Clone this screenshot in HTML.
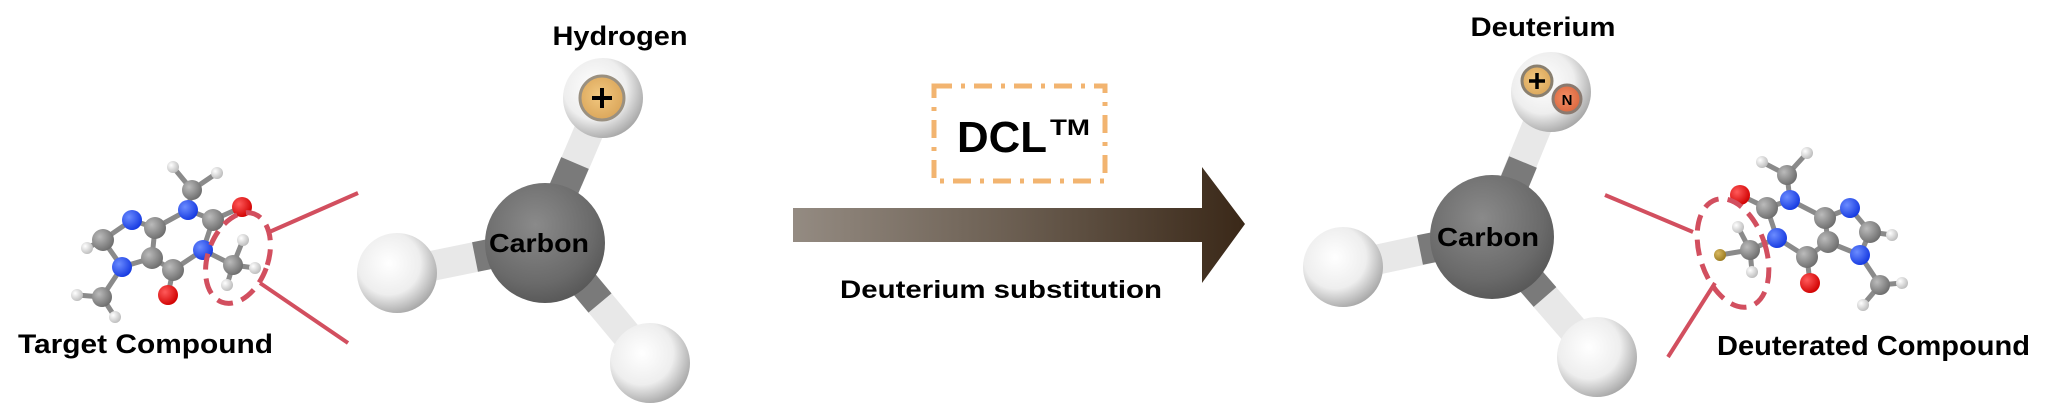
<!DOCTYPE html>
<html><head><meta charset="utf-8"><style>
html,body{margin:0;padding:0;background:#fff;}
svg{display:block;}
text{font-family:"Liberation Sans",sans-serif;font-weight:bold;fill:#000;}
</style></head><body>
<svg width="2059" height="420" viewBox="0 0 2059 420" xmlns="http://www.w3.org/2000/svg">
<defs>
<radialGradient id="wh" cx="0.4" cy="0.38" r="0.65"><stop offset="0" stop-color="#ffffff"/><stop offset="0.6" stop-color="#eeeeee"/><stop offset="1" stop-color="#a8a8a8"/></radialGradient>
<radialGradient id="cb" cx="0.42" cy="0.35" r="0.7"><stop offset="0" stop-color="#8a8a8a"/><stop offset="0.7" stop-color="#6a6a6a"/><stop offset="1" stop-color="#555"/></radialGradient>
<radialGradient id="ac" cx="0.35" cy="0.35" r="0.7"><stop offset="0" stop-color="#bbb"/><stop offset="1" stop-color="#6c6c6c"/></radialGradient>
<radialGradient id="an" cx="0.35" cy="0.35" r="0.7"><stop offset="0" stop-color="#6b8cff"/><stop offset="1" stop-color="#1438e0"/></radialGradient>
<radialGradient id="ao" cx="0.35" cy="0.35" r="0.7"><stop offset="0" stop-color="#ff5a5a"/><stop offset="1" stop-color="#d00000"/></radialGradient>
<radialGradient id="ah" cx="0.35" cy="0.35" r="0.7"><stop offset="0" stop-color="#fff"/><stop offset="1" stop-color="#bbb"/></radialGradient>
<radialGradient id="ad" cx="0.35" cy="0.35" r="0.7"><stop offset="0" stop-color="#d8b860"/><stop offset="1" stop-color="#9a7a20"/></radialGradient>
<radialGradient id="pl" cx="0.45" cy="0.45" r="0.6"><stop offset="0" stop-color="#f2c880"/><stop offset="1" stop-color="#d9a458"/></radialGradient>
<radialGradient id="nn" cx="0.45" cy="0.45" r="0.6"><stop offset="0" stop-color="#f59066"/><stop offset="1" stop-color="#d9643c"/></radialGradient>
<linearGradient id="arr" x1="793" y1="0" x2="1245" y2="0" gradientUnits="userSpaceOnUse"><stop offset="0" stop-color="#948b82"/><stop offset="0.5" stop-color="#6a5d50"/><stop offset="1" stop-color="#3a2818"/></linearGradient>
</defs>

<!-- LEFT MOLECULE bonds -->
<g stroke="#8a8a8a" stroke-width="5" fill="none">
<path d="M173,167 L192,190 L217,173 M192,190 L188,210 L213,220 L203,250 L173,270 L152,258 L155,228 L188,210 M213,220 L242,207 M203,250 L233,265 L243,240 M233,265 L255,268 M233,265 L227,285 M173,270 L168,295 M155,228 L132,220 L103,240 L122,267 L152,258 M103,240 L87,248 M122,267 L102,297 L77,295 M102,297 L115,317"/>
</g>
<g>
<circle cx="192" cy="190" r="10" fill="url(#ac)"/>
<circle cx="173" cy="167" r="6" fill="url(#ah)"/><circle cx="217" cy="173" r="6" fill="url(#ah)"/>
<circle cx="188" cy="210" r="10" fill="url(#an)"/>
<circle cx="242" cy="207" r="10" fill="url(#ao)"/>
<circle cx="213" cy="220" r="11" fill="url(#ac)"/>
<circle cx="155" cy="228" r="11" fill="url(#ac)"/>
<circle cx="132" cy="220" r="10" fill="url(#an)"/>
<circle cx="103" cy="240" r="11" fill="url(#ac)"/>
<circle cx="87" cy="248" r="6" fill="url(#ah)"/>
<circle cx="152" cy="258" r="11" fill="url(#ac)"/>
<circle cx="122" cy="267" r="10" fill="url(#an)"/>
<circle cx="77" cy="295" r="6" fill="url(#ah)"/>
<circle cx="102" cy="297" r="10" fill="url(#ac)"/>
<circle cx="115" cy="317" r="6" fill="url(#ah)"/>
<circle cx="173" cy="270" r="11" fill="url(#ac)"/>
<circle cx="168" cy="295" r="10" fill="url(#ao)"/>
<circle cx="203" cy="250" r="10" fill="url(#an)"/>
<circle cx="233" cy="265" r="10" fill="url(#ac)"/>
<circle cx="243" cy="240" r="6" fill="url(#ah)"/>
<circle cx="255" cy="268" r="6" fill="url(#ah)"/>
<circle cx="227" cy="285" r="6" fill="url(#ah)"/>
</g>
<ellipse cx="238" cy="258" rx="30" ry="47" transform="rotate(20 238 258)" fill="none" stroke="#d24f5f" stroke-width="5" stroke-dasharray="16,9"/>
<line x1="358" y1="193" x2="267" y2="233" stroke="#d24f5f" stroke-width="4"/>
<line x1="260" y1="283" x2="348" y2="343" stroke="#d24f5f" stroke-width="4"/>
<text x="18" y="353" font-size="27" textLength="255" lengthAdjust="spacingAndGlyphs">Target Compound</text>

<!-- LEFT CH3 model -->
<g stroke-width="30" stroke-linecap="butt">
<line x1="603" y1="98" x2="568" y2="180" stroke="#e8e8e8"/><line x1="575" y1="163" x2="560" y2="198" stroke="#7a7a7a"/>
<line x1="397" y1="273" x2="500" y2="252" stroke="#e8e8e8"/><line x1="475" y1="257" x2="500" y2="252" stroke="#7a7a7a"/>
<line x1="650" y1="363" x2="585" y2="285" stroke="#e8e8e8"/><line x1="600" y1="303" x2="580" y2="279" stroke="#7a7a7a"/>
</g>
<circle cx="545" cy="243" r="60" fill="url(#cb)"/>
<circle cx="603" cy="98" r="40" fill="url(#wh)"/>
<circle cx="397" cy="273" r="40" fill="url(#wh)"/>
<circle cx="650" cy="363" r="40" fill="url(#wh)"/>
<circle cx="602" cy="98" r="22" fill="url(#pl)" stroke="#9a9080" stroke-width="3"/>
<path d="M602,88 V108 M592,98 H612" stroke="#000" stroke-width="4"/>
<text x="539" y="252" font-size="26" text-anchor="middle" textLength="100" lengthAdjust="spacingAndGlyphs">Carbon</text>
<text x="620" y="45" font-size="27" text-anchor="middle" textLength="135" lengthAdjust="spacingAndGlyphs">Hydrogen</text>

<!-- ARROW -->
<path d="M793,208 H1202 V167 L1245,224 L1202,283 V242 H793 Z" fill="url(#arr)"/>
<rect x="934" y="86" width="171" height="95" fill="none" stroke="#f2b470" stroke-width="5" stroke-dasharray="18,9,4,9"/>
<text x="957" y="152" font-size="44" textLength="90" lengthAdjust="spacingAndGlyphs">DCL</text>
<text x="1050" y="135" font-size="22" textLength="40" lengthAdjust="spacingAndGlyphs">TM</text>
<text x="840" y="298" font-size="25" textLength="322" lengthAdjust="spacingAndGlyphs">Deuterium substitution</text>

<!-- RIGHT CD model -->
<g stroke-width="30" stroke-linecap="butt">
<line x1="1551" y1="92" x2="1515" y2="180" stroke="#e8e8e8"/><line x1="1523" y1="162" x2="1508" y2="198" stroke="#7a7a7a"/>
<line x1="1343" y1="267" x2="1445" y2="245" stroke="#e8e8e8"/><line x1="1420" y1="250" x2="1445" y2="245" stroke="#7a7a7a"/>
<line x1="1597" y1="357" x2="1530" y2="280" stroke="#e8e8e8"/><line x1="1545" y1="297" x2="1525" y2="274" stroke="#7a7a7a"/>
</g>
<circle cx="1492" cy="237" r="62" fill="url(#cb)"/>
<circle cx="1551" cy="92" r="40" fill="url(#wh)"/>
<circle cx="1343" cy="267" r="40" fill="url(#wh)"/>
<circle cx="1597" cy="357" r="40" fill="url(#wh)"/>
<circle cx="1537" cy="81" r="15" fill="url(#pl)" stroke="#8a8070" stroke-width="3"/>
<path d="M1537,73 V89 M1529,81 H1545" stroke="#000" stroke-width="3.5"/>
<circle cx="1567" cy="99" r="14" fill="url(#nn)" stroke="#8a7a70" stroke-width="3"/>
<text x="1567" y="105" font-size="15" text-anchor="middle" font-weight="normal">N</text>
<text x="1488" y="246" font-size="26" text-anchor="middle" textLength="102" lengthAdjust="spacingAndGlyphs">Carbon</text>
<text x="1543" y="36" font-size="27" text-anchor="middle" textLength="145" lengthAdjust="spacingAndGlyphs">Deuterium</text>

<!-- RIGHT MOLECULE -->
<g stroke="#8a8a8a" stroke-width="5" fill="none">
<path d="M1740,195 L1767,208 L1790,200 L1787,175 L1762,162 M1787,175 L1807,153 M1790,200 L1825,218 L1828,242 L1807,257 L1777,238 L1767,208 M1825,218 L1850,208 L1870,232 L1860,255 L1828,242 M1870,232 L1892,235 M1860,255 L1880,285 L1902,283 M1880,285 L1863,305 M1807,257 L1810,283 M1777,238 L1750,250 L1738,227 M1750,250 L1752,272 M1750,250 L1720,255"/>
</g>
<g>
<circle cx="1787" cy="175" r="10" fill="url(#ac)"/>
<circle cx="1762" cy="162" r="6" fill="url(#ah)"/><circle cx="1807" cy="153" r="6" fill="url(#ah)"/>
<circle cx="1740" cy="195" r="10" fill="url(#ao)"/>
<circle cx="1767" cy="208" r="11" fill="url(#ac)"/>
<circle cx="1790" cy="200" r="10" fill="url(#an)"/>
<circle cx="1825" cy="218" r="11" fill="url(#ac)"/>
<circle cx="1850" cy="208" r="10" fill="url(#an)"/>
<circle cx="1870" cy="232" r="11" fill="url(#ac)"/>
<circle cx="1892" cy="235" r="6" fill="url(#ah)"/>
<circle cx="1828" cy="242" r="11" fill="url(#ac)"/>
<circle cx="1860" cy="255" r="10" fill="url(#an)"/>
<circle cx="1880" cy="285" r="10" fill="url(#ac)"/>
<circle cx="1902" cy="283" r="6" fill="url(#ah)"/>
<circle cx="1863" cy="305" r="6" fill="url(#ah)"/>
<circle cx="1807" cy="257" r="11" fill="url(#ac)"/>
<circle cx="1810" cy="283" r="10" fill="url(#ao)"/>
<circle cx="1777" cy="238" r="10" fill="url(#an)"/>
<circle cx="1750" cy="250" r="10" fill="url(#ac)"/>
<circle cx="1738" cy="227" r="6" fill="url(#ah)"/>
<circle cx="1752" cy="272" r="6" fill="url(#ah)"/>
<circle cx="1720" cy="255" r="6" fill="url(#ad)"/>
</g>
<ellipse cx="1733" cy="253" rx="33" ry="56" transform="rotate(-18 1733 253)" fill="none" stroke="#d24f5f" stroke-width="5" stroke-dasharray="16,9"/>
<line x1="1605" y1="195" x2="1693" y2="232" stroke="#d24f5f" stroke-width="4"/>
<line x1="1668" y1="357" x2="1715" y2="283" stroke="#d24f5f" stroke-width="4"/>
<text x="1717" y="355" font-size="28" textLength="313" lengthAdjust="spacingAndGlyphs">Deuterated Compound</text>
</svg>
</body></html>
